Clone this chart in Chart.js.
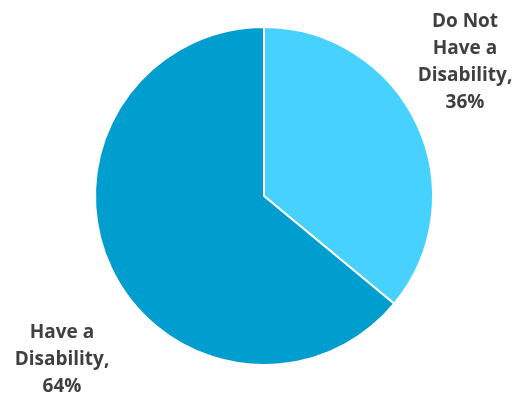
<!DOCTYPE html>
<html>
<head>
<meta charset="utf-8">
<script src="https://cdn.jsdelivr.net/npm/chart.js@4.4.1/dist/chart.umd.min.js"></script>
<style>
  html, body { margin: 0; padding: 0; background: #fff; }
  #wrap { width: 519px; height: 398px; position: relative; }
</style>
</head>
<body>
<div id="wrap"><canvas id="disabilityChart"></canvas></div>
<script>
const categories = ['Do Not Have a Disability', 'Have a Disability'];
const labelLines = [['Do Not', 'Have a', 'Disability,'], ['Have a', 'Disability,']];
const shares = [36, 64];
const sliceColors = ['#47D1FF', '#009DCF'];

// label anchor per slice (centre x, first line y)
const labelSpots = [[465, 22], [62, 333]];

const sliceLabels = {
  id: 'sliceLabels',
  afterDraw(chart) {
    const ctx = chart.ctx;
    ctx.save();
    ctx.fillStyle = '#404040';
    ctx.font = 'bold 19px "Open Sans"';
    ctx.textAlign = 'center';
    ctx.textBaseline = 'middle';
    const values = chart.data.datasets[0].data;
    values.forEach((v, i) => {
      const lines = labelLines[i].concat([v + '%']);
      const [x, y] = labelSpots[i];
      lines.forEach((t, k) => ctx.fillText(t, x, y + k * 27));
    });
    ctx.restore();
  }
};

new Chart(document.getElementById('disabilityChart'), {
  type: 'pie',
  data: {
    labels: categories,
    datasets: [{
      data: shares,
      backgroundColor: sliceColors,
      borderColor: '#ffffff',
      borderWidth: 2
    }]
  },
  options: {
    responsive: true,
    maintainAspectRatio: false,
    animation: false,
    layout: { padding: { top: 26, bottom: 32, left: 94, right: 85 } },
    plugins: {
      legend: { display: false },
      tooltip: { enabled: false }
    }
  },
  plugins: [sliceLabels]
});
</script>
</body>
</html>
